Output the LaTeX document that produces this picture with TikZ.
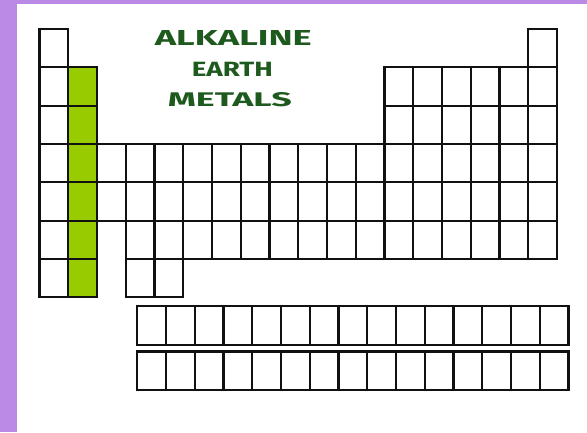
\documentclass[tikz,border=0pt]{standalone}
\usepackage{fontspec}
\newfontfamily\labelfont{Fira Sans}
\usepackage{graphicx}
\definecolor{bandpurple}{HTML}{BB8AE6}
\definecolor{groupgreen}{HTML}{99CC00}
\definecolor{textgreen}{HTML}{1E5A1E}
\definecolor{gridline}{HTML}{111111}
\tikzset{
  cellbox/.style={draw=gridline, line width=2.2pt, fill=white},
  greencell/.style={draw=gridline, line width=2.2pt, fill=groupgreen},
  titletext/.style={inner sep=0pt, text=textgreen, font=\labelfont\bfseries}
}
\begin{document}
\begin{tikzpicture}[x=1pt,y=-1pt]
\useasboundingbox (0,0) rectangle (587,432);
\fill[white] (0,0) rectangle (587,432);
\fill[bandpurple] (0,0) rectangle (17,432);
\fill[bandpurple] (0,0) rectangle (587,4);
\def\XO{39.5}\def\YO{29}\def\CW{28.75}\def\RH{38.33}
% main table: row -> list of columns
\foreach \r/\cols in {1/{1,18},2/{1,13,14,15,16,17,18},3/{1,13,14,15,16,17,18},
  4/{1,3,4,5,6,7,8,9,10,11,12,13,14,15,16,17,18},
  5/{1,3,4,5,6,7,8,9,10,11,12,13,14,15,16,17,18},
  6/{1,4,5,6,7,8,9,10,11,12,13,14,15,16,17,18},
  7/{1,4,5}}{
  \foreach \c in \cols {
    \draw[cellbox] ({\XO+(\c-1)*\CW},{\YO+(\r-1)*\RH}) rectangle ++(\CW,\RH);
  }
}
% alkaline earth metals column
\foreach \r in {2,...,7}{
  \draw[greencell] ({\XO+\CW},{\YO+(\r-1)*\RH}) rectangle ++(\CW,\RH);
}
% lanthanides and actinides
\foreach \c in {0,...,14}{
  \draw[cellbox] ({137.3+\c*\CW},306) rectangle ++(\CW,39);
  \draw[cellbox] ({137.3+\c*\CW},351.5) rectangle ++(\CW,38.5);
}
% title
\node[titletext] (t1) at (233.3,37.5) {\resizebox{157pt}{15pt}{ALKALINE}};
\node[titletext] (t2) at (232.3,69) {\resizebox{81pt}{14.3pt}{EARTH}};
\node[titletext] (t3) at (229.8,99.7) {\resizebox{124pt}{14pt}{METALS}};
\end{tikzpicture}
\end{document}
